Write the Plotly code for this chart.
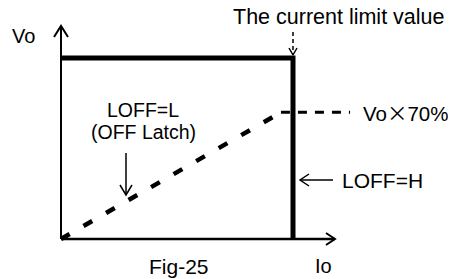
import plotly.graph_objects as go

# ---- schematic values (normalized: Io / current limit, Vo / set output) ----
io_limit = 1.0          # current limit value
vo_set = 1.0            # nominal output voltage
vo_ratio = 0.70         # Vo x 70 % latch threshold
latch_io_end = 0.948    # end of the dashed LOFF=L line
ref_io_end = 1.246      # end of the 70 % reference dash
axis_io_end = 1.181     # Io axis length
axis_vo_end = 1.177     # Vo axis length
labels = {
    "vo": "Vo", "io": "Io", "fig": "Fig-25",
    "limit": "The current limit value",
    "ratio": "Vo<span style=\"font-family:'Noto Sans CJK JP'\">×</span>70%",
    "loffl": "LOFF=L", "latch": "(OFF Latch)", "loffh": "LOFF=H",
}

# ---- pixel geometry of the drawing (screen px; page body has an 8px margin) ----
W, H = 456, 279
M = 8
X0, Y0 = 61, 239        # origin in screen px
SX, SY = 232, 181       # px per unit


def px2x(p):
    return (p - X0) / SX


def px2y(p):
    return (Y0 - p) / SY


def vhead(tx, ty, dx, dy, length, half):
    """open V arrowhead in data coords, offsets in px (dy up)"""
    bx, by = -dx * length, -dy * length
    nx, ny = -dy, dx
    pts = [(bx + nx * half, by + ny * half), (0, 0), (bx - nx * half, by - ny * half)]
    return [tx + p[0] / SX for p in pts], [ty + p[1] / SY for p in pts]


fig = go.Figure()
K = "black"


def line(x, y, w, dash="solid"):
    fig.add_trace(go.Scatter(x=x, y=y, mode="lines", hoverinfo="skip",
                             line=dict(color=K, width=w, dash=dash)))


# axes
line([0, 0], [0, axis_vo_end], 2)
line([0, axis_io_end], [0, 0], 2.5)
hx, hy = vhead(0, axis_vo_end, 0, 1, 11, 7)
line(hx, hy, 2)
hx, hy = vhead(axis_io_end, 0, 1, 0, 9, 6)
line(hx, hy, 2)

# LOFF=H characteristic (constant voltage then current limit)
line([0, io_limit, io_limit], [vo_set, vo_set, 0], 5)

# LOFF=L latch line
line([0, latch_io_end], [0, vo_ratio], 4.5, "10px,16px")
line([latch_io_end, ref_io_end], [vo_ratio, vo_ratio], 3, "9px,8px")

# current limit pointer
y_top, y_tip = px2y(32), px2y(55)
line([io_limit, io_limit], [y_top, y_tip], 1.5, "4px,3px")
hx, hy = vhead(io_limit, y_tip, 0, -1, 7, 4)
line(hx, hy, 1.5)

# LOFF=L arrow
ax_ = px2x(126)
line([ax_, ax_], [px2y(153), px2y(195)], 1.5)
hx, hy = vhead(ax_, px2y(195), 0, -1, 10, 6)
line(hx, hy, 1.5)

# LOFF=H arrow
yh = px2y(180)
line([px2x(300), px2x(333)], [yh, yh], 1.5)
hx, hy = vhead(px2x(300), yh, -1, 0, 9, 6)
line(hx, hy, 1.5)

FONT = "Liberation Sans, Arial, sans-serif"


def txt(s, x, y, size, xanchor="center"):
    fig.add_annotation(x=x, y=y, text=s, showarrow=False, xanchor=xanchor,
                       yanchor="middle", font=dict(family=FONT, size=size, color=K))


txt(labels["vo"], px2x(23), px2y(36), 20)
txt(labels["limit"], px2x(339), px2y(17), 21.5)
txt(labels["loffl"], px2x(143), px2y(110), 19.5)
txt(labels["latch"], px2x(143), px2y(132), 19.5)
txt(labels["ratio"], px2x(361), vo_ratio, 20.5, "left")
txt(labels["loffh"], px2x(340), yh, 21, "left")
txt(labels["fig"], px2x(179), px2y(266), 21)
txt(labels["io"], px2x(323), px2y(266), 20)

fig.update_layout(
    width=W - M, height=H - M, showlegend=False,
    margin=dict(l=0, r=0, t=0, b=0),
    paper_bgcolor="white", plot_bgcolor="white",
    xaxis=dict(range=[px2x(M), px2x(W)], visible=False, fixedrange=True),
    yaxis=dict(range=[px2y(H), px2y(M)], visible=False, fixedrange=True),
)

fig.write_html("out.html")
